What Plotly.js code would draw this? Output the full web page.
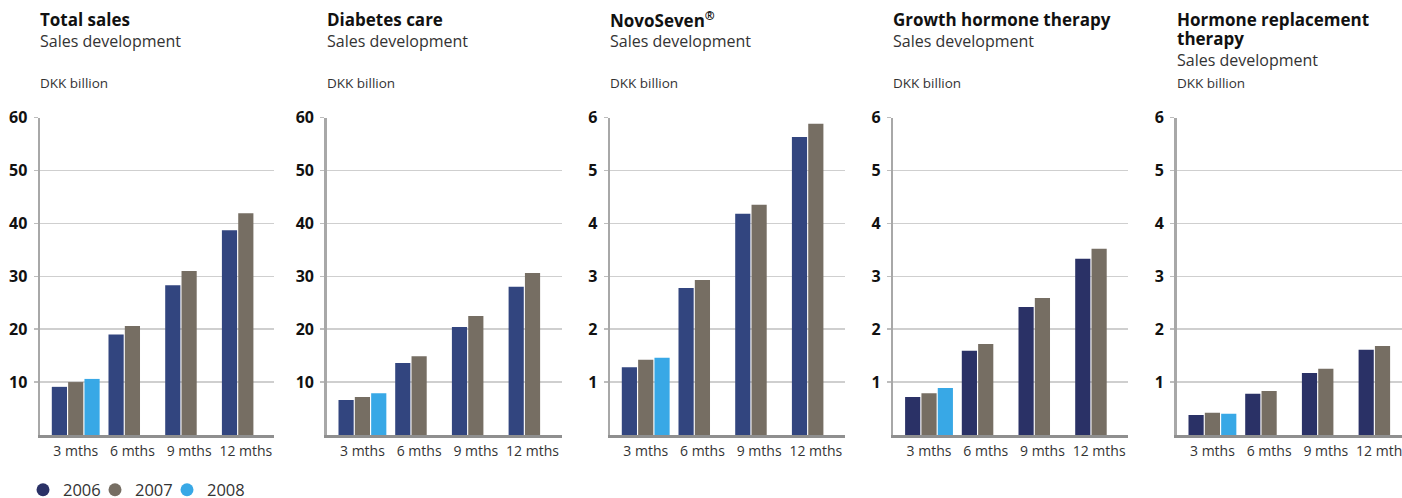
<!DOCTYPE html>
<html>
<head>
<meta charset="utf-8">
<script src="https://cdn.plot.ly/plotly-3.0.1.min.js"></script>
<style>html,body{margin:0;padding:0;background:#fff;}#chart{width:1402px;height:498px;}</style>
</head>
<body>
<div id="chart"></div>
<script>
// ---- data (DKK billion) ----
const categories = ['3 mths', '6 mths', '9 mths', '12 mths'];
const years = ['2006', '2007', '2008'];

const panelTitles = ['Total sales', 'Diabetes care', 'NovoSeven<sup>®</sup>', 'Growth hormone therapy', 'Hormone replacement<br>therapy'];
const panelSubtitle = 'Sales development';
const unitLabel = 'DKK billion';

const totalSales2006 = [9.1, 19.0, 28.3, 38.7];
const totalSales2007 = [10.0, 20.6, 31.0, 41.9];
const totalSales2008 = [10.6, null, null, null];

const diabetes2006 = [6.6, 13.6, 20.4, 28.0];
const diabetes2007 = [7.2, 14.9, 22.5, 30.6];
const diabetes2008 = [7.9, null, null, null];

const novoSeven2006 = [1.28, 2.78, 4.18, 5.63];
const novoSeven2007 = [1.42, 2.93, 4.35, 5.88];
const novoSeven2008 = [1.46, null, null, null];

const growth2006 = [0.72, 1.59, 2.42, 3.33];
const growth2007 = [0.79, 1.72, 2.59, 3.52];
const growth2008 = [0.89, null, null, null];

const hrt2006 = [0.38, 0.78, 1.17, 1.61];
const hrt2007 = [0.42, 0.83, 1.25, 1.68];
const hrt2008 = [0.40, null, null, null];

const yTicks60 = [10, 20, 30, 40, 50, 60];
const yTicks6 = [1, 2, 3, 4, 5, 6];

// ---- styling / layout ----
const W = 1402, H = 498;
const FONT = 'Open Sans, Noto Sans, sans-serif';
const navyA = '#32457f', navyB = '#2a3166', gray = '#766e63', blue = '#38a8e6';

const panels = [
  {s: [totalSales2006, totalSales2007, totalSales2008], ticks: yTicks60, max: 60, x0: 40, x1: 274, navy: navyA},
  {s: [diabetes2006, diabetes2007, diabetes2008], ticks: yTicks60, max: 60, x0: 326.7, x1: 561.7, navy: navyA},
  {s: [novoSeven2006, novoSeven2007, novoSeven2008], ticks: yTicks6, max: 6, x0: 610, x1: 845, navy: navyA},
  {s: [growth2006, growth2007, growth2008], ticks: yTicks6, max: 6, x0: 893.3, x1: 1128, navy: navyB},
  {s: [hrt2006, hrt2007, hrt2008], ticks: yTicks6, max: 6, x0: 1176.7, x1: 1411, navy: navyB}
];

const pxPerCat = 56.7;
const yTop = 117.5, yBot = 435;
const traces = [];
const layout = {
  width: W, height: H, autosize: false,
  margin: {l: 0, r: 0, t: 0, b: 0, pad: 0, autoexpand: false},
  paper_bgcolor: '#fff', plot_bgcolor: '#fff',
  barmode: 'group', bargap: 0.136, bargroupgap: 0.07,
  font: {family: FONT, color: '#222'},
  showlegend: true,
  annotations: []
};

panels.forEach((p, i) => {
  const n = i === 0 ? '' : String(i + 1);
  const colors = [p.navy, gray, blue];
  p.s.forEach((vals, k) => {
    traces.push({
      type: 'bar', x: categories, y: vals, name: years[k],
      xaxis: 'x' + n, yaxis: 'y' + n, showlegend: false,
      marker: {color: colors[k], line: {width: 0}},
      hoverinfo: 'skip'
    });
  });
  const right = Math.min(p.x1, W);
  const rangeEnd = -0.63 + (right - p.x0) / pxPerCat;
  layout['xaxis' + n] = {
    domain: [p.x0 / W, right / W], anchor: 'y' + n,
    type: 'category', range: [-0.63, rangeEnd], fixedrange: true,
    showline: true, linecolor: '#8f8f8f', linewidth: 2.5,
    showgrid: false, ticks: '', ticklabelstandoff: 2,
    tickfont: {family: FONT, size: 14, color: '#333'}
  };
  layout['yaxis' + n] = {
    domain: [1 - yBot / H, 1 - yTop / H], anchor: 'x' + n,
    range: [0, p.max], fixedrange: true,
    tickvals: p.ticks, ticktext: p.ticks.map(String),
    showline: true, linecolor: '#a8a8a8', linewidth: 2.5,
    showgrid: true, gridcolor: '#cfcfcf', gridwidth: 1.5, zeroline: false,
    ticks: 'outside', ticklen: 4, tickcolor: '#bdbdbd', tickwidth: 1.5,
    ticklabelstandoff: 3,
    tickfont: {family: FONT, size: 16, color: '#111', weight: 'bold'}
  };
  const tx = (p.x0 - 2) / W;
  const titleLines = panelTitles[i].split('<br>');
  titleLines.forEach((line, j) => {
    layout.annotations.push({
      xref: 'paper', yref: 'paper', x: tx, xanchor: 'left',
      y: 1 - (19 + 20 * j) / H, yanchor: 'middle', align: 'left', showarrow: false,
      text: '<b>' + line + '</b>',
      font: {family: FONT, size: 17, color: '#111'}
    });
  });
  layout.annotations.push({
    xref: 'paper', yref: 'paper', x: tx, xanchor: 'left',
    y: 1 - (titleLines.length > 1 ? 60 : 40.5) / H, yanchor: 'middle', align: 'left', showarrow: false,
    text: panelSubtitle,
    font: {family: FONT, size: 16, color: '#333'}
  });
  layout.annotations.push({
    xref: 'paper', yref: 'paper', x: tx, xanchor: 'left',
    y: 1 - 83 / H, yanchor: 'middle', align: 'left', showarrow: false,
    text: unitLabel,
    font: {family: FONT, size: 13.5, color: '#333'}
  });
});

// legend entries (circle markers), one legend per year for exact spacing
const legendX = [23, 95, 167];
[navyB, gray, blue].forEach((c, k) => {
  const key = k === 0 ? 'legend' : 'legend' + (k + 1);
  traces.push({
    type: 'scatter', mode: 'markers', x: [null], y: [null], name: years[k],
    marker: {symbol: 'circle', size: 13, color: c},
    showlegend: true, legend: key, hoverinfo: 'skip'
  });
  layout[key] = {
    orientation: 'h', x: legendX[k] / W, xanchor: 'left', y: 1 - 490 / H, yanchor: 'middle',
    font: {family: FONT, size: 16.5, color: '#333'}, itemclick: false,
    bgcolor: 'rgba(0,0,0,0)', itemwidth: 30
  };
});

Plotly.newPlot('chart', traces, layout, {displayModeBar: false, staticPlot: true});
</script>
</body>
</html>
